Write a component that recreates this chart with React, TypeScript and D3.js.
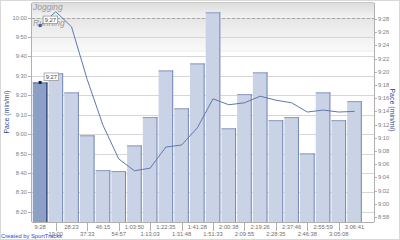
import React from "react";
import * as d3 from "d3";

const lapLabels = ["9:28","19:00","28:23","37:33","46:15","54:57","1:03:50","1:13:03","1:22:35","1:31:48","1:41:28","1:51:33","2:00:38","2:09:55","2:19:26","2:28:35","2:37:46","2:46:38","2:55:59","3:05:08","3:06:41"];
// lap pace in seconds per mile (left axis)
const lapPace = [566.6,571.3,561.5,539.4,521.5,521,534.2,548.8,572.8,553.3,576.4,602.7,543,560.6,571.8,547.2,548.8,530.1,561.5,547.2,557];
// cumulative average pace in seconds (right axis)
const avgPace = [567,569.1,566.8,558.8,551.9,546.8,545,545.4,548.6,548.9,551.5,555.9,555,555.3,556.3,555.7,555.3,553.9,554.2,553.9,554];
const leftTicks = [500,510,520,530,540,550,560,570,580,590,600];
const rightTicks = [538,540,542,544,546,548,550,552,554,556,558,560,562,564,566,568];
const zoneLabels = ["Jogging","Running"];
const zoneBounds = [607.5,600,583];

const fmt = (s: number) => {
  const m = Math.floor(s / 60);
  const r = Math.round(s - m * 60);
  return `${m}:${r < 10 ? "0" : ""}${r}`;
};

export default function App() {
  const W = 400, H = 240;
  const L = 32, R = 374, T = 3, B = 222;
  const x = d3.scaleBand<string>().domain(lapLabels).range([32.8, 361.8]).paddingInner(0.07).paddingOuter(0);
  const yL = d3.scaleLinear().domain([494.8, 607.5]).range([B, T]);
  const yR = d3.scaleLinear().domain([537.24, 570.42]).range([B, T]);
  const cx = (i: number) => (x(lapLabels[i]) as number) + x.bandwidth() / 2;
  const line = d3.line<number>().x((_, i) => cx(i)).y((d) => yR(d));
  const font = "'Liberation Sans', Arial, sans-serif";
  const bw = x.bandwidth();
  const p0 = { x: cx(0), y: yR(avgPace[0]) };
  const b0 = { x: cx(0), y: yL(lapPace[0]) };
  return (
    <svg width={W} height={H} style={{ position: "absolute", left: 0, top: 0, background: "#fff" }} fontFamily={font}>
      <defs>
        <linearGradient id="z1" x1="0" y1="0" x2="0" y2="1">
          <stop offset="0" stopColor="#dcdcdc" />
          <stop offset="1" stopColor="#f3f3f3" />
        </linearGradient>
        <linearGradient id="z2" x1="0" y1="0" x2="0" y2="1">
          <stop offset="0" stopColor="#e6e6e6" />
          <stop offset="1" stopColor="#f9f9f9" />
        </linearGradient>
      </defs>
      <rect x={0.5} y={0.5} width={W - 1} height={H - 1} fill="#fff" stroke="#d8d8d8" />
      {/* zones */}
      <rect x={L} y={yL(zoneBounds[0])} width={R - L} height={yL(zoneBounds[1]) - yL(zoneBounds[0])} fill="url(#z1)" />
      <rect x={L} y={yL(zoneBounds[1])} width={R - L} height={yL(zoneBounds[2]) - yL(zoneBounds[1])} fill="url(#z2)" />
      <line x1={L} x2={R} y1={yL(zoneBounds[2]) + 0.5} y2={yL(zoneBounds[2]) + 0.5} stroke="#ececec" />
      {/* grid */}
      {leftTicks.map((t) => (
        <line key={t} x1={L} x2={R} y1={Math.round(yL(t)) + 0.5} y2={Math.round(yL(t)) + 0.5} stroke="#d6d6d6" />
      ))}
      <line x1={L} x2={R} y1={Math.round(yL(600)) + 0.5} y2={Math.round(yL(600)) + 0.5} stroke="#a8a8a8" strokeDasharray="3,2" />
      {/* zone labels */}
      <text x={L + 1} y={9.5} fontSize={8.5} fontStyle="italic" fill="#9a9a9a">{zoneLabels[0]}</text>
      <text x={L + 1} y={25.5} fontSize={8.5} fontStyle="italic" fill="#9a9a9a">{zoneLabels[1]}</text>
      {/* bars */}
      {lapPace.map((v, i) => {
        const bx = x(lapLabels[i]) as number;
        const by = yL(v);
        const first = i === 0;
        return (
          <g key={i}>
            <rect x={bx} y={by} width={bw} height={B - by} fill={first ? "#8c9fc4" : "#cad3e5"} />
            <line x1={bx} x2={bx + bw} y1={by + 0.5} y2={by + 0.5} stroke={first ? "#5b6f9e" : "#8a9bc0"} />
            <line x1={bx + bw - 0.5} x2={bx + bw - 0.5} y1={by} y2={B} stroke={first ? "#14266a" : "#7489bb"} />
          </g>
        );
      })}
      {/* avg line */}
      <path d={line(avgPace) || ""} fill="none" stroke="#5d79ad" strokeWidth={1} />
      {/* axes */}
      <line x1={L - 0.5} x2={L - 0.5} y1={T} y2={B} stroke="#b0b0b0" />
      <line x1={R + 0.5} x2={R + 0.5} y1={T} y2={B} stroke="#b0b0b0" />
      <line x1={L} x2={R} y1={T - 0.5} y2={T - 0.5} stroke="#c8c8c8" />
      <line x1={L} x2={R} y1={B + 0.5} y2={B + 0.5} stroke="#b0b0b0" />
      {leftTicks.map((t) => (
        <g key={t}>
          <line x1={L - 4} x2={L} y1={Math.round(yL(t)) + 0.5} y2={Math.round(yL(t)) + 0.5} stroke="#b0b0b0" />
          <text x={L - 5} y={yL(t) + 2} fontSize={5.8} textAnchor="end" fill="#808080">{fmt(t)}</text>
        </g>
      ))}
      {rightTicks.map((t) => (
        <g key={t}>
          <line x1={R} x2={R + 3} y1={Math.round(yR(t)) + 0.5} y2={Math.round(yR(t)) + 0.5} stroke="#b0b0b0" />
          <text x={R + 4} y={yR(t) + 2} fontSize={5.8} fill="#808080">{fmt(t)}</text>
        </g>
      ))}
      {lapLabels.map((l, i) => {
        const row2 = i % 2 === 1;
        return (
          <g key={l}>
            {row2 && <line x1={Math.round(cx(i)) + 0.5} x2={Math.round(cx(i)) + 0.5} y1={B} y2={B + 9} stroke="#b0b0b0" />}
            <text x={cx(i)} y={row2 ? 235.5 : 228.5} fontSize={5.8} textAnchor="middle" fill="#707070">{l}</text>
          </g>
        );
      })}
      <text transform={`translate(9,${112}) rotate(-90)`} fontSize={7} textAnchor="middle" fill="#34457f">Pace (min/mi)</text>
      <text transform={`translate(390,${110}) rotate(90)`} fontSize={7} textAnchor="middle" fill="#34457f">Pace (min/mi)</text>
      {/* markers & tooltips */}
      <rect x={p0.x - 1.5} y={p0.y - 1.5} width={3} height={3} fill="#3a5aa8" />
      <rect x={b0.x - 1.5} y={b0.y - 1.5} width={3} height={3} fill="#0e1f5e" />
      <rect x={p0.x + 3} y={p0.y - 9.5} width={14.5} height={7.5} fill="#fff" stroke="#9a9a9a" strokeWidth={0.8} />
      <text x={p0.x + 10.25} y={p0.y - 3.7} fontSize={5.8} textAnchor="middle" fill="#444">{fmt(lapPace[0])}</text>
      <rect x={b0.x + 4} y={b0.y - 9.5} width={14.5} height={7.5} fill="#fff" stroke="#9a9a9a" strokeWidth={0.8} />
      <text x={b0.x + 11.25} y={b0.y - 3.7} fontSize={5.8} textAnchor="middle" fill="#444">{fmt(avgPace[0])}</text>
      <text x={1} y={238} fontSize={5.8} fill="#3344cc">Created by SportTracks</text>
    </svg>
  );
}
